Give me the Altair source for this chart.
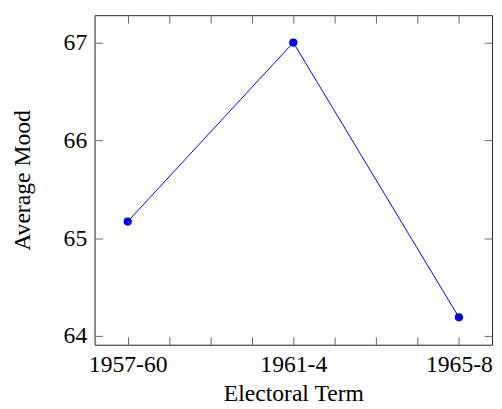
import altair as alt
import pandas as pd

years = [1957, 1961, 1965]
terms = ["1957-60", "1961-4", "1965-8"]
mood = [65.17, 67.0, 64.19]
x_tick_values = [1957, 1958, 1959, 1960, 1961, 1962, 1963, 1964, 1965]
y_tick_values = [64, 65, 66, 67]

df = pd.DataFrame({"year": years, "term": terms, "mood": mood})

FONT = "Liberation Serif, Times New Roman, serif"
FS = 24
TICK = "#666666"

label_expr = " : ".join(
    f"datum.value == {y} ? '{t}'" for y, t in zip(years, terms)
) + " : ''"

xs = alt.Scale(domain=[1956.2, 1965.8], nice=False, zero=False)
ys = alt.Scale(domain=[63.91, 67.28], nice=False, zero=False)

base = alt.Chart(df)

x_lab_axis = alt.Axis(orient="bottom", values=years, labelExpr=label_expr,
                      ticks=False, domain=False, grid=False, labelFlush=False,
                      labelFont=FONT, labelFontSize=FS, labelColor="black",
                      labelPadding=8, title="Electoral Term", titleFont=FONT,
                      titleFontSize=FS, titleFontWeight="normal",
                      titleColor="black", titlePadding=6)
y_lab_axis = alt.Axis(orient="left", values=y_tick_values, format="d",
                      ticks=False, domain=False, grid=False, labelFlush=False,
                      labelFont=FONT, labelFontSize=FS, labelColor="black",
                      labelPadding=8, title="Average Mood", titleFont=FONT,
                      titleFontSize=FS, titleFontWeight="normal",
                      titleColor="black", titlePadding=29)

line = base.mark_line(color="blue", strokeWidth=1).encode(
    x=alt.X("year:Q", scale=xs, axis=x_lab_axis),
    y=alt.Y("mood:Q", scale=ys, axis=y_lab_axis),
)

points = base.mark_point(filled=True, size=70, color="#0000e0", opacity=1).encode(
    x=alt.X("year:Q", scale=xs, axis=None),
    y=alt.Y("mood:Q", scale=ys, axis=None),
)


def tick_axis(orient, values):
    return alt.Axis(orient=orient, values=values, labels=False, domain=False,
                    grid=False, ticks=True, tickSize=8, offset=-8,
                    tickColor=TICK, tickWidth=1, title=None)


ticks_bl = base.mark_point(opacity=0).encode(
    x=alt.X("year:Q", scale=xs, axis=tick_axis("bottom", x_tick_values)),
    y=alt.Y("mood:Q", scale=ys, axis=tick_axis("left", y_tick_values)),
)
ticks_tr = base.mark_point(opacity=0).encode(
    x=alt.X("year:Q", scale=xs, axis=tick_axis("top", x_tick_values)),
    y=alt.Y("mood:Q", scale=ys, axis=tick_axis("right", y_tick_values)),
)

chart = alt.layer(line, points, ticks_bl, ticks_tr).resolve_axis(
    x="independent", y="independent"
).properties(
    width=404, height=335,
    autosize=alt.AutoSizeParams(type="none"),
    padding={"left": 88, "top": 4, "right": 2, "bottom": 62},
).configure_view(stroke="#222222", strokeWidth=1)

chart.save("out.html", embed_options={"renderer": "svg", "actions": False})
